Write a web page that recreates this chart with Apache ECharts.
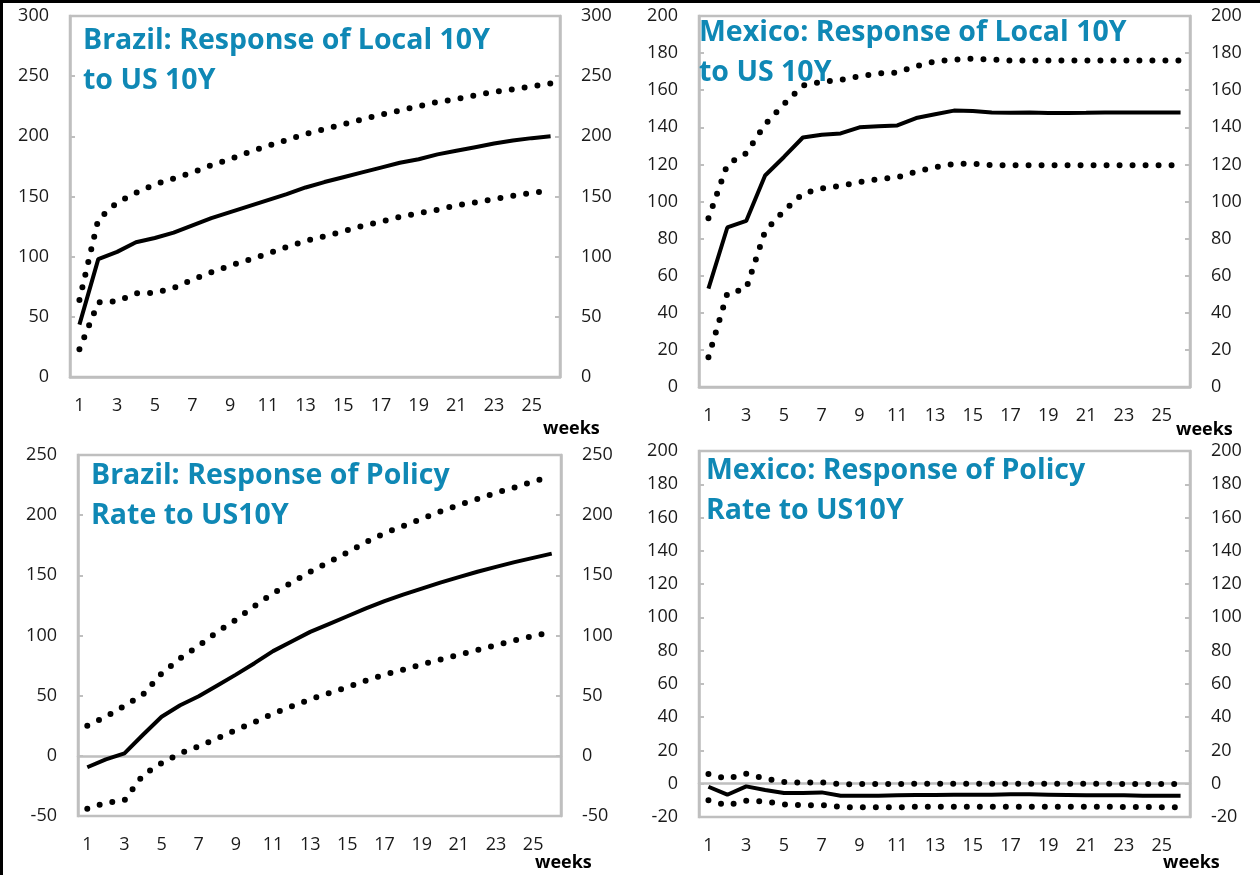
<!DOCTYPE html>
<html>
<head>
<meta charset="utf-8">
<title>Response to US 10Y</title>
<script src="https://cdn.jsdelivr.net/npm/echarts@6/dist/echarts.min.js"></script>
<style>
  html, body { margin: 0; padding: 0; background: #fff; }
  #chart { position: absolute; left: 0; top: 0; width: 1260px; height: 875px; }
  #frame { position: absolute; left: 0; top: 0; width: 1260px; height: 875px; box-sizing: border-box;
           border-left: 3px solid #000; border-top: 3px solid #000; pointer-events: none; }
</style>
</head>
<body>
<div id="chart"></div>
<div id="frame"></div>
<script>
// weeks after the shock
const weeks = ['1', '2', '3', '4', '5', '6', '7', '8', '9', '10', '11', '12', '13',
               '14', '15', '16', '17', '18', '19', '20', '21', '22', '23', '24', '25', '26'];

// Brazil: local 10Y response (bp) with upper / lower bands
const brLocalMid = [43.5, 98, 104, 112, 115.5, 120, 126, 132, 137, 142, 147, 152, 157.5,
                    162, 166, 170, 174, 178, 181, 185, 188, 191, 194, 196.5, 198.5, 200];
const brLocalUp  = [64, 131, 145, 153, 160, 165, 170, 176, 181, 187, 192, 197, 202,
                    206, 210, 214, 218, 221.5, 225, 228.5, 231, 234, 237, 239, 241.5, 244];
const brLocalLo  = [23, 62, 63, 69.5, 70, 74, 81, 87, 92.5, 97.5, 102.5, 108, 113,
                    117, 121, 125.5, 129, 133, 136, 139, 142.5, 145, 148, 150.5, 153, 155];

// Mexico: local 10Y response
const mxLocalMid = [53, 86, 89.5, 114, 124, 134.5, 136, 136.7, 140, 140.6, 141, 145, 147,
                    149, 148.8, 148, 147.8, 148, 147.7, 147.7, 147.8, 148, 148, 148, 148, 148];
const mxLocalUp  = [91, 120, 126, 141.5, 152.5, 162.5, 164.5, 165.5, 167.5, 169, 169.5, 173, 175.5,
                    176.5, 177, 176.5, 176, 176, 176, 176, 176, 176, 176, 176, 176, 176];
const mxLocalLo  = [16, 50.5, 53, 84, 95, 104.3, 107, 108.5, 110.5, 112, 113, 116, 118.5,
                    120.3, 120.3, 119.6, 119.6, 119.6, 119.6, 119.6, 119.6, 119.6, 119.6, 119.6, 119.6, 119.6];

// Brazil: policy rate response
const brPolicyMid = [-9.5, -3, 2, 17.5, 32.5, 42, 49.5, 58.5, 67.5, 77, 87, 95, 103,
                     109.5, 116, 122.5, 128.5, 134, 139, 144, 148.5, 153, 157, 161, 164.5, 168];
const brPolicyUp  = [25, 32.5, 41.5, 51, 68.5, 81, 91.5, 103, 113, 124.5, 135, 144, 153,
                     161, 169, 177.5, 185, 191, 197, 203, 208.5, 213.5, 218.5, 223, 228, 232];
const brPolicyLo  = [-44, -39, -37, -16, -6, 2, 8, 14.5, 21.5, 28, 35, 41, 47,
                     52, 57, 62.5, 67.5, 71.5, 76, 80, 84, 88, 92, 96, 99.5, 103];

// Mexico: policy rate response
const mxPolicyMid = [-1.8, -6.6, -1.6, -3.8, -5.6, -5.6, -5.2, -7.2, -7.2, -7.2, -7, -6.8, -6.8,
                     -6.6, -6.6, -6.6, -6.4, -6.4, -6.6, -6.8, -7, -7, -7, -7.2, -7.2, -7.2];
const mxPolicyUp  = [5.8, 3, 6, 3, 1, 0.6, 0.8, -0.3, -0.2, -0.2, -0.2, 0, 0,
                     0, 0, 0, 0, 0, 0, 0, 0, 0, -0.2, -0.2, -0.2, -0.2];
const mxPolicyLo  = [-10, -13, -10.2, -10.6, -12.4, -13, -12.8, -14, -14.2, -14.2, -14.2, -13.8, -13.8,
                     -13.8, -13.8, -13.8, -13.8, -13.8, -13.8, -13.8, -13.8, -13.8, -14, -14, -14.2, -14.2];

const GREY = '#bfbfbf';
const TEAL = '#0f88b5';
const FONT = '"Open Sans", "Noto Sans", sans-serif';

const panels = [
  { title: 'Brazil: Response of Local 10Y\nto US 10Y', mid: brLocalMid, up: brLocalUp, lo: brLocalLo,
    min: 0, max: 300, step: 50,
    grid: { left: 70, top: 16, width: 490, height: 361 }, titleAt: [83, 21], weeksAt: [543, 420] },
  { title: 'Mexico: Response of Local 10Y\nto US 10Y', mid: mxLocalMid, up: mxLocalUp, lo: mxLocalLo,
    min: 0, max: 200, step: 20,
    grid: { left: 699, top: 16, width: 491, height: 371 }, titleAt: [699, 13], weeksAt: [1176, 421] },
  { title: 'Brazil: Response of Policy\nRate to US10Y', mid: brPolicyMid, up: brPolicyUp, lo: brPolicyLo,
    min: -50, max: 250, step: 50,
    grid: { left: 78, top: 455, width: 483, height: 361 }, titleAt: [91, 456], weeksAt: [535, 854] },
  { title: 'Mexico: Response of Policy\nRate to US10Y', mid: mxPolicyMid, up: mxPolicyUp, lo: mxPolicyLo,
    min: -20, max: 200, step: 20,
    grid: { left: 699, top: 451, width: 491, height: 366 }, titleAt: [706, 451], weeksAt: [1163, 854] }
];

const option = { animation: false, title: [], grid: [], xAxis: [], yAxis: [], series: [] };

panels.forEach((p, i) => {
  option.title.push({
    text: p.title, left: p.titleAt[0], top: p.titleAt[1], padding: 0,
    textStyle: { color: TEAL, fontSize: 28.5, fontWeight: 'bold', fontFamily: FONT, lineHeight: 40 }
  });
  option.title.push({
    text: 'weeks', left: p.weeksAt[0], top: p.weeksAt[1], padding: 0,
    textStyle: { color: '#000', fontSize: 18, fontWeight: 'bold', fontFamily: FONT }
  });

  option.grid.push(Object.assign({ show: true, borderColor: GREY, borderWidth: 2.5 }, p.grid));

  // axis line and ticks sit on zero
  option.xAxis.push({
    gridIndex: i, type: 'category', data: weeks, position: 'bottom',
    axisLine: { onZero: true, lineStyle: { color: GREY, width: 2.5 } },
    axisTick: { inside: true, length: 7, interval: 0, lineStyle: { color: GREY, width: 2 } },
    axisLabel: { show: false }
  });
  // labels stay along the bottom edge
  option.xAxis.push({
    gridIndex: i, type: 'category', data: weeks, position: 'bottom',
    axisLine: { show: false, onZero: false }, axisTick: { show: false },
    axisLabel: { interval: 1, margin: 20, fontSize: 18, color: '#1a1a1a', fontFamily: FONT }
  });

  ['left', 'right'].forEach(pos => {
    option.yAxis.push({
      gridIndex: i, type: 'value', position: pos, min: p.min, max: p.max, interval: p.step,
      axisLine: { show: true, lineStyle: { color: GREY, width: 2.5 } },
      axisTick: { show: true, inside: true, length: 5, lineStyle: { color: GREY, width: 2 } },
      splitLine: { show: false },
      axisLabel: { margin: 21, fontSize: 18, color: '#1a1a1a', fontFamily: FONT }
    });
  });

  const dotted = { color: '#000', width: 6, type: [0, 13], cap: 'round' };
  [[p.up, dotted], [p.lo, dotted], [p.mid, { color: '#000', width: 4 }]].forEach(([data, style]) => {
    option.series.push({
      type: 'line', xAxisIndex: 2 * i, yAxisIndex: 2 * i, data: data,
      symbol: 'none', silent: true, lineStyle: style, z: 3
    });
  });
});

const chart = echarts.init(document.getElementById('chart'));
chart.setOption(option);
</script>
</body>
</html>
